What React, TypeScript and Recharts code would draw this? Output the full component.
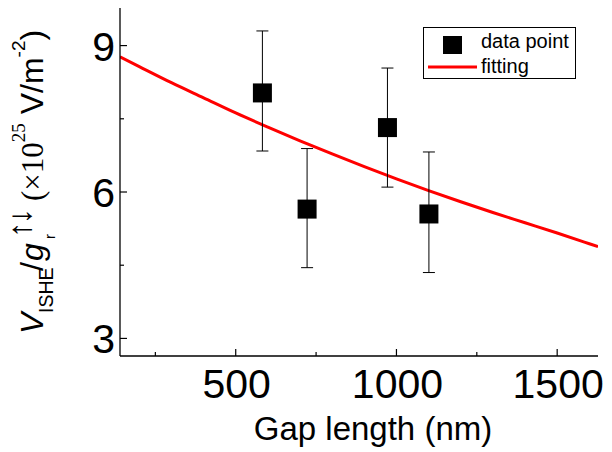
import React from 'react';
import { ComposedChart, Line, Scatter, ErrorBar, XAxis, YAxis, Legend } from 'recharts';

const FONT = "Arial, 'Liberation Sans', Helvetica, sans-serif";
const SERIF = "'Times New Roman', 'Liberation Serif', serif";

// measured points
const gapLength = [583, 722, 972, 1101];
const vIshe = [8.03, 5.65, 7.32, 5.55];
const errLow = [6.84, 4.45, 6.1, 4.35];
const errHigh = [9.3, 6.89, 8.54, 6.82];

// fitting curve
const fitGap = [140, 200, 300, 400, 500, 600, 700, 800, 900, 1000, 1100, 1200, 1300, 1400, 1500, 1600, 1627];
const fitValue = [8.77, 8.57, 8.24, 7.93, 7.62, 7.33, 7.05, 6.78, 6.52, 6.27, 6.03, 5.8, 5.58, 5.37, 5.16, 4.94, 4.88];

const xTicks = [250, 500, 750, 1000, 1250, 1500];
const xMajor = [500, 1000, 1500];
const yTicks = [3, 4.5, 6, 7.5, 9];
const yMajor = [3, 6, 9];

const points = gapLength.map((g, i) => ({
  gap: g,
  v: vIshe[i],
  err: [vIshe[i] - errLow[i], errHigh[i] - vIshe[i]],
}));
const fitData = fitGap.map((g, i) => ({ gap: g, fit: fitValue[i] }));

const TICK_STROKE = 1.2;

const BottomTick = (props: any) => {
  const { x, y, payload } = props;
  const major = xMajor.includes(payload.value);
  return (
    <g>
      <line x1={x} x2={x} y1={y} y2={y - (major ? 7 : 4)} stroke="#000" strokeWidth={TICK_STROKE} />
      {major && (
        <text x={x + 1} y={y + 42} textAnchor="middle" fontSize={41} fontFamily={FONT} fill="#000">
          {payload.value}
        </text>
      )}
    </g>
  );
};

const TopTick = (props: any) => {
  const { x, y, payload } = props;
  const major = xMajor.includes(payload.value);
  return <line x1={x} x2={x} y1={y} y2={y + (major ? 7 : 4)} stroke="#000" strokeWidth={TICK_STROKE} />;
};

const LeftTick = (props: any) => {
  const { x, y, payload } = props;
  const major = yMajor.includes(payload.value);
  return (
    <g>
      <line x1={x} x2={x + (major ? 7 : 4)} y1={y} y2={y} stroke="#000" strokeWidth={TICK_STROKE} />
      {major && (
        <text x={x - 5} y={y + 15} textAnchor="end" fontSize={41} fontFamily={FONT} fill="#000">
          {payload.value}
        </text>
      )}
    </g>
  );
};

const RightTick = (props: any) => {
  const { x, y, payload } = props;
  const major = yMajor.includes(payload.value);
  return <line x1={x} x2={x - (major ? 7 : 4)} y1={y} y2={y} stroke="#000" strokeWidth={TICK_STROKE} />;
};

const Square = (props: any) => {
  const { cx, cy } = props;
  return <rect x={cx - 9.5} y={cy - 9.5} width={19} height={19} fill="#000" />;
};

// rotated frame: x runs up the page from the bottom of the label, y runs rightwards from the baseline
const YLabel = () => (
  <g transform="translate(43 334) rotate(-90)">
    <text fontFamily={FONT} fontSize={32} fill="#000">
      <tspan x={0} y={0} fontStyle="italic">V</tspan>
      <tspan x={21} y={10} fontSize={19.5}>ISHE</tspan>
      <tspan x={63} y={0}>/</tspan>
      <tspan x={73} y={0} fontStyle="italic">g</tspan>
      <tspan x={95} y={12} fontSize={15}>r</tspan>
      <tspan x={96} y={-12} fontSize={33} letterSpacing={-3}>↑↓</tspan>
      <tspan x={133} y={0} fontFamily={SERIF} fontSize={31}>(×10</tspan>
      <tspan dy={-18} fontFamily={SERIF} fontSize={19}>25</tspan>
      <tspan dy={18}> V/m</tspan>
      <tspan dy={-18} fontSize={19}>-2</tspan>
      <tspan dy={18}>)</tspan>
    </text>
  </g>
);

const XLabel = () => (
  <text x={373} y={440} textAnchor="middle" fontFamily={FONT} fontSize={33} fill="#000">
    Gap length (nm)
  </text>
);

const LegendBox = () => (
  <svg width={153} height={52} style={{ display: 'block' }}>
    <rect x={0.5} y={0.5} width={152} height={51} fill="#fff" stroke="#000" strokeWidth={1} />
    <rect x={20} y={9} width={19} height={18} fill="#000" />
    <text x={58} y={21} fontFamily={FONT} fontSize={20} fill="#000">data point</text>
    <line x1={5} x2={54} y1={40} y2={40} stroke="#ff0000" strokeWidth={3} />
    <text x={58} y={46} fontFamily={FONT} fontSize={20} fill="#000">fitting</text>
  </svg>
);

export default function App() {
  return (
    <div style={{ position: 'absolute', left: 0, top: 0, width: 612, height: 452, background: '#fff' }}>
      <ComposedChart width={612} height={452} margin={{ top: 8, right: 14, bottom: 0, left: 0 }}>
        <XAxis
          dataKey="gap"
          type="number"
          domain={[140, 1627]}
          ticks={xTicks}
          interval={0}
          allowDataOverflow
          height={96}
          tickSize={0}
          tickMargin={0}
          tick={<BottomTick />}
          axisLine={{ stroke: '#000', strokeWidth: 1.3 }}
          label={{ content: () => <XLabel /> }}
        />
        <XAxis
          xAxisId="top"
          orientation="top"
          type="number"
          domain={[140, 1627]}
          ticks={xTicks}
          interval={0}
          allowDataOverflow
          height={0}
          tickSize={0}
          tickMargin={0}
          tick={<TopTick />}
          axisLine={{ stroke: '#000', strokeWidth: 1.3 }}
        />
        <YAxis
          type="number"
          domain={[2.64, 9.77]}
          ticks={yTicks}
          interval={0}
          allowDataOverflow
          width={120}
          tickSize={0}
          tickMargin={0}
          tick={<LeftTick />}
          axisLine={{ stroke: '#000', strokeWidth: 1.3 }}
          label={{ content: () => <YLabel /> }}
        />
        <YAxis
          yAxisId="right"
          orientation="right"
          type="number"
          domain={[2.64, 9.77]}
          ticks={yTicks}
          interval={0}
          allowDataOverflow
          width={0}
          tickSize={0}
          tickMargin={0}
          tick={<RightTick />}
          axisLine={{ stroke: '#000', strokeWidth: 1.3 }}
        />
        <Line
          data={fitData}
          dataKey="fit"
          type="monotone"
          stroke="#ff0000"
          strokeWidth={3}
          dot={false}
          isAnimationActive={false}
        />
        <Scatter data={points} dataKey="v" shape={<Square />} isAnimationActive={false}>
          <ErrorBar dataKey="err" direction="y" width={6} stroke="#000" strokeWidth={1} />
        </Scatter>
        <Legend
          verticalAlign="middle"
          align="center"
          layout="horizontal"
          wrapperStyle={{ position: 'absolute', left: 423, top: 27, width: 153, height: 52 }}
          content={() => <LegendBox />}
        />
      </ComposedChart>
    </div>
  );
}
